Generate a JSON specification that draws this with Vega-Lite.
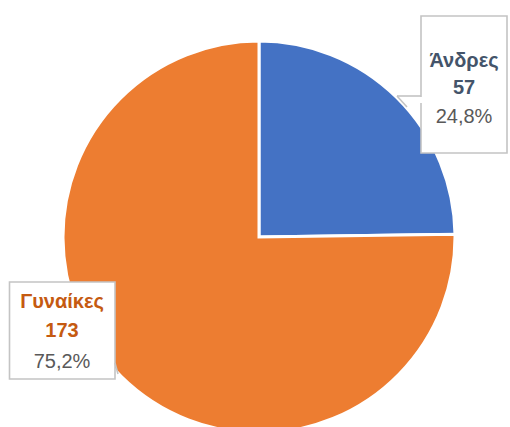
{
  "$schema": "https://vega.github.io/schema/vega-lite/v6.json",
  "width": 510,
  "height": 427,
  "padding": 0,
  "autosize": {"type": "none"},
  "background": "white",
  "config": {"view": {"stroke": null}, "text": {"font": "Liberation Sans"}},
  "data": {"values": [
    {"gender": "Άνδρες", "count": 57, "pct": "24,8%"},
    {"gender": "Γυναίκες", "count": 173, "pct": "75,2%"}
  ]},
  "layer": [
    {
      "mark": {"type": "arc", "outerRadius": 196, "stroke": "white", "strokeWidth": 3},
      "encoding": {
        "theta": {"field": "count", "type": "quantitative", "stack": true},
        "color": {"field": "gender", "type": "nominal", "scale": {"domain": ["Άνδρες", "Γυναίκες"], "range": ["#4472C4", "#ED7D31"]}, "legend": null},
        "x": {"datum": 259, "type": "quantitative", "scale": {"domain": [0, 510], "nice": false, "zero": false}, "axis": null},
        "y": {"datum": 237, "type": "quantitative", "scale": {"domain": [0, 427], "nice": false, "zero": false, "reverse": true}, "axis": null}
      }
    },
    {
      "data": {"values": [{}]},
      "mark": {"type": "rect", "fill": "white", "stroke": "#C4C4C4", "strokeWidth": 1.6},
      "encoding": {
        "x": {"datum": 421, "type": "quantitative"},
        "x2": {"datum": 507},
        "y": {"datum": 16, "type": "quantitative"},
        "y2": {"datum": 153}
      }
    },
    {
      "data": {"values": [{}]},
      "mark": {"type": "rect", "fill": "white", "stroke": "#C4C4C4", "strokeWidth": 1.6},
      "encoding": {
        "x": {"datum": 9.5, "type": "quantitative"},
        "x2": {"datum": 115},
        "y": {"datum": 282, "type": "quantitative"},
        "y2": {"datum": 379}
      }
    },
    {
      "data": {"values": [{}]},
      "mark": {"type": "rule", "stroke": "white", "strokeWidth": 3},
      "encoding": {
        "x": {"datum": 421, "type": "quantitative"},
        "x2": {"datum": 421},
        "y": {"datum": 97, "type": "quantitative"},
        "y2": {"datum": 103}
      }
    },
    {
      "data": {"values": [{}]},
      "mark": {"type": "rule", "stroke": "#C4C4C4", "strokeWidth": 1.6},
      "encoding": {
        "x": {"datum": 397, "type": "quantitative"},
        "x2": {"datum": 421},
        "y": {"datum": 96, "type": "quantitative"},
        "y2": {"datum": 96}
      }
    },
    {
      "data": {"values": [{}]},
      "mark": {"type": "rule", "stroke": "#C4C4C4", "strokeWidth": 1.6},
      "encoding": {
        "x": {"datum": 397, "type": "quantitative"},
        "x2": {"datum": 407},
        "y": {"datum": 96, "type": "quantitative"},
        "y2": {"datum": 107}
      }
    },
    {
      "data": {"values": [{}]},
      "mark": {"type": "rule", "stroke": "#C4C4C4", "strokeWidth": 1.6},
      "encoding": {
        "x": {"datum": 115, "type": "quantitative"},
        "x2": {"datum": 118},
        "y": {"datum": 363, "type": "quantitative"},
        "y2": {"datum": 374}
      }
    },
    {
      "transform": [{"filter": "datum.gender === 'Άνδρες'"}],
      "layer": [
        {
          "mark": {"type": "text", "fontSize": 20, "fontWeight": "bold", "color": "#44546A", "align": "center", "baseline": "middle"},
          "encoding": {"text": {"field": "gender"}, "x": {"datum": 464, "type": "quantitative"}, "y": {"datum": 61, "type": "quantitative"}}
        },
        {
          "mark": {"type": "text", "fontSize": 20, "fontWeight": "bold", "color": "#44546A", "align": "center", "baseline": "middle"},
          "encoding": {"text": {"field": "count"}, "x": {"datum": 464, "type": "quantitative"}, "y": {"datum": 88, "type": "quantitative"}}
        },
        {
          "mark": {"type": "text", "fontSize": 20, "color": "#595959", "align": "center", "baseline": "middle"},
          "encoding": {"text": {"field": "pct"}, "x": {"datum": 464, "type": "quantitative"}, "y": {"datum": 117, "type": "quantitative"}}
        }
      ]
    },
    {
      "transform": [{"filter": "datum.gender === 'Γυναίκες'"}],
      "layer": [
        {
          "mark": {"type": "text", "fontSize": 20, "fontWeight": "bold", "color": "#C55A11", "align": "center", "baseline": "middle"},
          "encoding": {"text": {"field": "gender"}, "x": {"datum": 62, "type": "quantitative"}, "y": {"datum": 302, "type": "quantitative"}}
        },
        {
          "mark": {"type": "text", "fontSize": 20, "fontWeight": "bold", "color": "#C55A11", "align": "center", "baseline": "middle"},
          "encoding": {"text": {"field": "count"}, "x": {"datum": 62, "type": "quantitative"}, "y": {"datum": 331, "type": "quantitative"}}
        },
        {
          "mark": {"type": "text", "fontSize": 20, "color": "#595959", "align": "center", "baseline": "middle"},
          "encoding": {"text": {"field": "pct"}, "x": {"datum": 62, "type": "quantitative"}, "y": {"datum": 362, "type": "quantitative"}}
        }
      ]
    }
  ]
}
